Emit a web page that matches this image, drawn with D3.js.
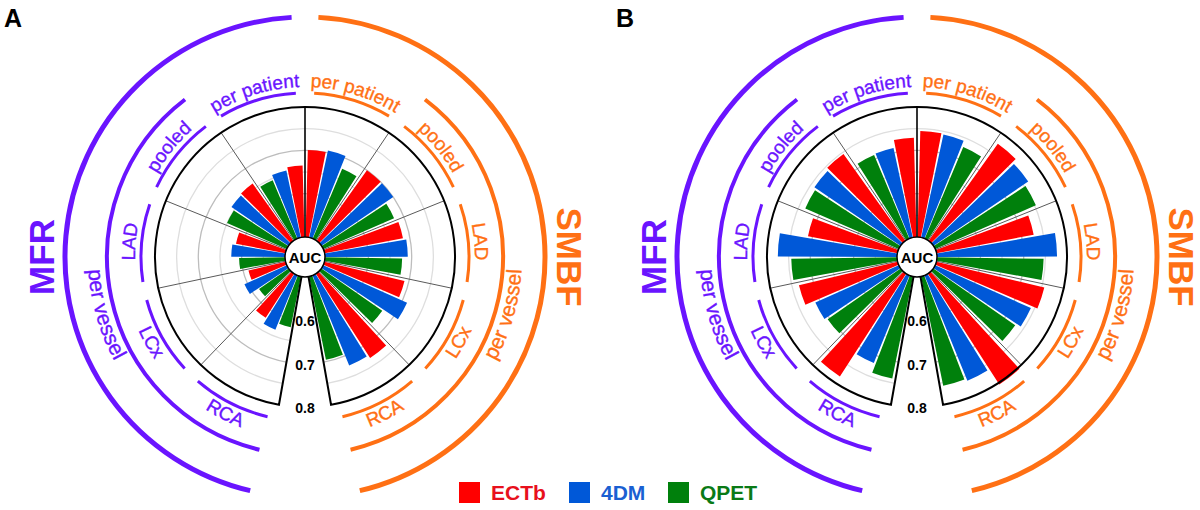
<!DOCTYPE html>
<html>
<head>
<meta charset="utf-8">
<script src="https://cdn.jsdelivr.net/npm/d3@7"></script>
<style>
  html, body { margin: 0; padding: 0; background: #fff; }
  svg { display: block; font-family: "Liberation Sans", Arial, sans-serif; }
</style>
</head>
<body>
<div id="app"></div>
<script>
// categories go round each half from the top, methods are the 3 bars per sector
const categories = ["per patient", "pooled", "LAD", "LCx", "RCA"];
const methods = ["ECTb", "4DM", "QPET"];
const radialTicks = [0.6, 0.7, 0.8];
const gridValues = [0.55, 0.6, 0.65, 0.7, 0.75];
const groupLabels = ["MFR", "SMBF"];
const panelLetters = ["A", "B"];

// AUC values, rows = categories, columns = ECTb, 4DM, QPET
const aucA_MFR = [
	[0.665, 0.658, 0.646],
	[0.662, 0.659, 0.650],
	[0.616, 0.624, 0.606],
	[0.588, 0.607, 0.583],
	[0.621, 0.635, 0.619]
];
const aucA_SMBF = [
	[0.701, 0.705, 0.675],
	[0.700, 0.700, 0.678],
	[0.684, 0.691, 0.678],
	[0.690, 0.712, 0.671],
	[0.731, 0.724, 0.696]
];
const aucB_MFR = [
	[0.729, 0.711, 0.709],
	[0.746, 0.740, 0.735],
	[0.710, 0.775, 0.744],
	[0.734, 0.711, 0.705],
	[0.782, 0.718, 0.740]
];
const aucB_SMBF = [
	[0.745, 0.743, 0.729],
	[0.775, 0.764, 0.753],
	[0.728, 0.777, 0.746],
	[0.756, 0.742, 0.730],
	[0.804, 0.762, 0.757]
];

const config = {
	width: 1200,
	height: 510,
	centers: [[305, 257], [917, 257]],
	color: {
		bars: ["#ff0000", "#0058d8", "#00800c"],
		legendText: ["#e8101c", "#1a5fd2", "#0a7a16"],
		mfr: "#6a14ff",
		smbf: "#ff7014"
	},
	sector: 34,       // degrees per category
	gapEdge: 170,     // empty wedge at the bottom
	barPad: 1.5,
	barGap: 1
};

const deg = Math.PI / 180;
const rScale = d3.scaleLinear().domain([0.5, 0.8]).range([20, 150]);

const svg = d3.select("#app").append("svg")
	.attr("width", config.width)
	.attr("height", config.height);

svg.append("rect")
	.attr("width", config.width)
	.attr("height", config.height)
	.attr("fill", "#fff");

// angle in degrees, 0 at 12 o'clock, clockwise
function arcPath(r, a0, a1, ccw) {
	const p = d3.path();
	p.arc(0, 0, r, (a0 - 90) * deg, (a1 - 90) * deg, !!ccw);
	return p.toString();
}

function point(r, a) {
	return [r * Math.sin(a * deg), -r * Math.cos(a * deg)];
}

function curvedLabel(g, id, text, r, center, flip, color, size) {
	const span = 70;
	g.append("path")
		.attr("id", id)
		.attr("fill", "none")
		.attr("d", flip ? arcPath(r, center + span, center - span, true) : arcPath(r, center - span, center + span, false));

	g.append("text")
		.attr("fill", color)
		.attr("stroke", color)
		.attr("stroke-width", 0.35)
		.attr("font-size", size)
		.append("textPath")
		.attr("href", "#" + id)
		.attr("startOffset", "50%")
		.attr("text-anchor", "middle")
		.text(text);
}

function drawPanel(index, mfr, smbf) {
	const [cx, cy] = config.centers[index];
	const g = svg.append("g").attr("transform", `translate(${cx},${cy})`);
	const letter = panelLetters[index];
	const barW = (config.sector - 2 * config.barPad - 2 * config.barGap) / 3;

	// grid circles
	g.append("g").selectAll("path")
		.data(gridValues)
		.enter()
		.append("path")
		.attr("d", d => arcPath(rScale(d), -config.gapEdge, config.gapEdge, false))
		.attr("fill", "none")
		.attr("stroke", d => (Math.round(d * 100) % 10 === 0) ? "#bdbdbd" : "#dedede")
		.attr("stroke-width", 1.3);

	// bars, side -1 = MFR (left, mirrored), side 1 = SMBF (right)
	const bars = [];
	[[mfr, -1], [smbf, 1]].forEach(([values, side]) => {
		values.forEach((row, i) => {
			row.forEach((v, j) => {
				const a0 = i * config.sector + config.barPad + j * (barW + config.barGap);
				const a1 = a0 + barW;
				bars.push({
					value: v,
					method: j,
					start: side > 0 ? a0 : -a1,
					end: side > 0 ? a1 : -a0
				});
			});
		});
	});

	const barArc = d3.arc()
		.innerRadius(rScale(0.5))
		.outerRadius(d => rScale(d.value))
		.startAngle(d => d.start * deg)
		.endAngle(d => d.end * deg);

	g.append("g").selectAll("path")
		.data(bars)
		.enter()
		.append("path")
		.attr("d", barArc)
		.attr("fill", d => config.color.bars[d.method]);

	// sector dividers
	const dividers = [];
	for (let i = 1; i < categories.length; i++) {
		dividers.push(i * config.sector, -i * config.sector);
	}
	g.append("g").selectAll("line")
		.data(dividers)
		.enter()
		.append("line")
		.attr("x1", d => point(rScale(0.5), d)[0])
		.attr("y1", d => point(rScale(0.5), d)[1])
		.attr("x2", d => point(rScale(0.8), d)[0])
		.attr("y2", d => point(rScale(0.8), d)[1])
		.attr("stroke", "#5a5a5a")
		.attr("stroke-width", 1);

	g.append("line")
		.attr("x1", 0).attr("y1", -rScale(0.5))
		.attr("x2", 0).attr("y2", -rScale(0.8))
		.attr("stroke", "#000")
		.attr("stroke-width", 1.6);

	// black outline with the empty wedge at the bottom
	const outline = d3.path();
	const pIn = point(rScale(0.5), -config.gapEdge);
	const pOut = point(rScale(0.8), -config.gapEdge);
	const pEnd = point(rScale(0.5), config.gapEdge);
	outline.moveTo(pIn[0], pIn[1]);
	outline.lineTo(pOut[0], pOut[1]);
	outline.arc(0, 0, rScale(0.8), (-config.gapEdge - 90) * deg, (config.gapEdge - 90) * deg, false);
	outline.lineTo(pEnd[0], pEnd[1]);
	g.append("path")
		.attr("d", outline.toString())
		.attr("fill", "none")
		.attr("stroke", "#000")
		.attr("stroke-width", 2);

	// centre
	g.append("circle")
		.attr("r", rScale(0.5))
		.attr("fill", "#fff")
		.attr("stroke", "#000")
		.attr("stroke-width", 1.5);
	g.append("text")
		.attr("text-anchor", "middle")
		.attr("dominant-baseline", "central")
		.attr("font-size", 15)
		.attr("font-weight", "bold")
		.text("AUC");

	// radial axis labels in the wedge
	g.append("g").selectAll("text")
		.data(radialTicks)
		.enter()
		.append("text")
		.attr("x", 0)
		.attr("y", d => rScale(d) + 1)
		.attr("text-anchor", "middle")
		.attr("dominant-baseline", "central")
		.attr("font-size", 14)
		.attr("font-weight", "bold")
		.text(d => d.toFixed(1));

	// category arcs and labels
	[[-1, config.color.mfr], [1, config.color.smbf]].forEach(([side, color]) => {
		categories.forEach((cat, i) => {
			const a0 = side * (i * config.sector + 3.2);
			const a1 = side * ((i + 1) * config.sector - 3.2);
			g.append("path")
				.attr("d", arcPath(164, Math.min(a0, a1), Math.max(a0, a1), false))
				.attr("fill", "none")
				.attr("stroke", color)
				.attr("stroke-width", 3);

			const c = side * (i + 0.5) * config.sector;
			const flip = Math.abs(c) > 90;
			curvedLabel(g, `${letter}-cat-${side}-${i}`, cat, flip ? 182 : 170, c, flip, color, 19);
		});

		// per vessel ring
		const v0 = side * (config.sector + 3.3);
		const v1 = side * (config.gapEdge - 3.3);
		g.append("path")
			.attr("d", arcPath(198, Math.min(v0, v1), Math.max(v0, v1), false))
			.attr("fill", "none")
			.attr("stroke", color)
			.attr("stroke-width", 4);
		curvedLabel(g, `${letter}-vessel-${side}`, "per vessel", 217, side * 106, true, color, 21);

		// outer group ring
		const o0 = side * 3.2;
		const o1 = side * (config.gapEdge - 3.2);
		g.append("path")
			.attr("d", arcPath(240, Math.min(o0, o1), Math.max(o0, o1), false))
			.attr("fill", "none")
			.attr("stroke", color)
			.attr("stroke-width", 5);

		g.append("text")
			.attr("transform", `translate(${side * 264},0) rotate(${side * 90})`)
			.attr("text-anchor", "middle")
			.attr("dominant-baseline", "central")
			.attr("font-size", 35)
			.attr("font-weight", "bold")
			.attr("fill", color)
			.text(side < 0 ? groupLabels[0] : groupLabels[1]);
	});

	svg.append("text")
		.attr("x", cx - 301)
		.attr("y", 27)
		.attr("font-size", 25)
		.attr("font-weight", "bold")
		.text(letter);
}

drawPanel(0, aucA_MFR, aucA_SMBF);
drawPanel(1, aucB_MFR, aucB_SMBF);

// legend
const legendX = [459, 569, 668];
const legend = svg.append("g").selectAll("g")
	.data(methods)
	.enter()
	.append("g")
	.attr("transform", (d, i) => `translate(${legendX[i]},482)`);

legend.append("rect")
	.attr("width", 21)
	.attr("height", 21)
	.attr("fill", (d, i) => config.color.bars[i]);

legend.append("text")
	.attr("x", 32)
	.attr("y", 18)
	.attr("font-size", 21)
	.attr("font-weight", "bold")
	.attr("fill", (d, i) => config.color.legendText[i])
	.text(d => d);
</script>
</body>
</html>
